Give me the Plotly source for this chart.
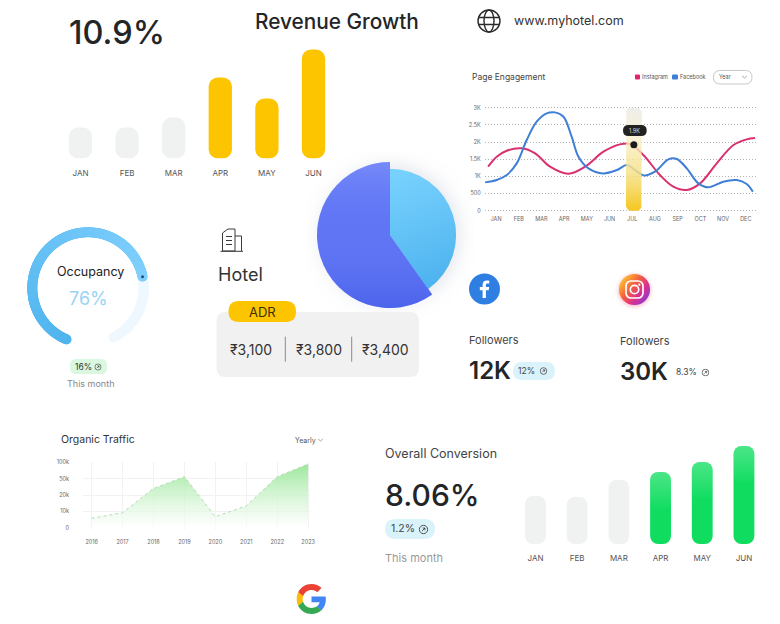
import base64
import math
import numpy as np
import plotly.graph_objects as go

W, H = 780, 624
FONT = "Inter"
INK = "#232527"
GREY_BAR = "#f0f1f1"

# Monthly bar panels
months6 = ["JAN", "FEB", "MAR", "APR", "MAY", "JUN"]
revenue = [31, 31, 41, 81, 60, 109]
conversion = [48, 47, 64, 72, 82, 98]

# Page engagement: samples along the year, month 1 = JAN
months12 = ["JAN", "FEB", "MAR", "APR", "MAY", "JUN", "JUL", "AUG", "SEP", "OCT", "NOV", "DEC"]
engagement_ticks = [0, 500, 1000, 1500, 2000, 2500, 3000]
engagement_labels = ["0", "500", "1K", "1.5K", "2K", "2.5K", "3K"]
insta_t = [0.65, 1.03, 1.47, 2.13, 2.72, 3.38, 4.19, 4.92, 5.73, 6.46, 6.90, 7.49, 8.22, 8.81, 9.40, 9.99, 10.72, 11.46, 12.04, 12.41]
insta_v = [1282, 1573, 1748, 1816, 1670, 1282, 1078, 1282, 1718, 1932, 1942, 1621, 1039, 699, 602, 796, 1379, 1913, 2078, 2117]
fb_t = [0.52, 1.03, 1.47, 1.91, 2.35, 2.79, 3.23, 3.60, 3.97, 4.33, 4.63, 5.07, 5.73, 6.32, 6.76, 7.12, 7.49, 8.00, 8.59, 8.96, 9.40, 9.91, 10.35, 11.01, 11.60, 12.04, 12.31]
fb_v = [825, 893, 1039, 1379, 2058, 2592, 2835, 2864, 2738, 2155, 1573, 1233, 1087, 1184, 1330, 1184, 1029, 1136, 1495, 1505, 1233, 796, 680, 845, 893, 777, 553]
hover_month = 7.07
hover_value = 1921

# Organic traffic, in thousands, on a stepped axis
years = [2016, 2017, 2018, 2019, 2020, 2021, 2022, 2023]
traffic = [5.7, 9.2, 32, 56, 6.7, 13.3, 56, 95]
traffic_ticks = [0, 10, 20, 50, 100]
traffic_labels = ["0", "10k", "20k", "50k", "100k"]

# Share pie and occupancy gauge
pie_shares = [40.2, 59.8]
occupancy = 76
adr_values = ["₹3,100", "₹3,800", "₹3,400"]


def xdom(a, b):
    return [a / W, b / W]


def ydom(top, bottom):
    return [1 - bottom / H, 1 - top / H]


def rounded_path(x0, y0, x1, y1, r):
    """Rounded rectangle in page pixels, as an SVG path on paper coordinates."""
    X = lambda v: f"{v / W:.5f}"
    Y = lambda v: f"{1 - v / H:.5f}"
    return (
        f"M{X(x0 + r)},{Y(y0)} L{X(x1 - r)},{Y(y0)} Q{X(x1)},{Y(y0)} {X(x1)},{Y(y0 + r)} "
        f"L{X(x1)},{Y(y1 - r)} Q{X(x1)},{Y(y1)} {X(x1 - r)},{Y(y1)} "
        f"L{X(x0 + r)},{Y(y1)} Q{X(x0)},{Y(y1)} {X(x0)},{Y(y1 - r)} "
        f"L{X(x0)},{Y(y0 + r)} Q{X(x0)},{Y(y0)} {X(x0 + r)},{Y(y0)} Z"
    )


def round_poly(x0, x1, y0, y1, rx, ry, n=8):
    """Closed rounded outline in the units of the axes it is plotted on."""
    a = np.linspace(0, math.pi / 2, n)
    xs, ys = [], []
    for cx, cy, sx, sy, flip in [
        (x1 - rx, y1 - ry, 1, 1, False),
        (x1 - rx, y0 + ry, 1, -1, True),
        (x0 + rx, y0 + ry, -1, -1, False),
        (x0 + rx, y1 - ry, -1, 1, True),
    ]:
        t = a[::-1] if flip else a
        xs += list(cx + sx * rx * np.sin(t))
        ys += list(cy + sy * ry * np.cos(t))
    return xs + xs[:1], ys + ys[:1]


fig = go.Figure()
annotations, shapes, images = [], [], []


def text(x, y, s, size, color=INK, anchor="left", weight=400):
    annotations.append(dict(
        x=x / W, y=1 - y / H, xref="paper", yref="paper", text=s, showarrow=False,
        xanchor=anchor, yanchor="middle", align=anchor, borderpad=0, borderwidth=0,
        font=dict(family=FONT, size=size, color=color, weight=weight),
    ))


def pill(x0, y0, x1, y1, r, fill, line=None, layer="below"):
    shapes.append(dict(
        type="path", path=rounded_path(x0, y0, x1, y1, r), xref="paper", yref="paper",
        fillcolor=fill, line=dict(width=1 if line else 0, color=line or fill), layer=layer,
    ))


def rule(x0, y0, x1, y1, color, width=1):
    shapes.append(dict(
        type="line", x0=x0 / W, x1=x1 / W, y0=1 - y0 / H, y1=1 - y1 / H,
        xref="paper", yref="paper", line=dict(color=color, width=width), layer="below",
    ))


def svg_image(svg, x0, y0, x1, y1, layer="above"):
    uri = "data:image/svg+xml;base64," + base64.b64encode(svg.encode()).decode()
    images.append(dict(
        source=uri, xref="paper", yref="paper", x=x0 / W, y=1 - y0 / H,
        sizex=(x1 - x0) / W, sizey=(y1 - y0) / H, xanchor="left", yanchor="top",
        sizing="stretch", layer=layer,
    ))


def svg(w, h, body):
    return f'<svg xmlns="http://www.w3.org/2000/svg" width="{w}" height="{h}" viewBox="0 0 {w} {h}">{body}</svg>'


def trend_icon(cx, cy, r=4.0, color="#333"):
    body = (
        f'<circle cx="12" cy="12" r="10" fill="none" stroke="{color}" stroke-width="2"/>'
        f'<path d="M8.5 15.5 L15.5 8.5 M10 8.5 H15.5 V14" fill="none" stroke="{color}" stroke-width="2"/>'
    )
    svg_image(svg(24, 24, body), cx - r, cy - r, cx + r, cy + r)


def bar_axes(n, x0, x1, y0, y1, ymax, standoff):
    fig.layout[f"xaxis{n}"] = dict(
        domain=xdom(x0, x1), anchor=f"y{n}", range=[-0.5, 5.5], tickmode="array", automargin=False,
        tickvals=list(range(6)), ticktext=months6, showgrid=False, zeroline=False, showline=False,
        ticks="", ticklabelstandoff=standoff, tickfont=dict(family=FONT, size=8, color="#555"),
    )
    fig.layout[f"yaxis{n}"] = dict(
        domain=ydom(y0, y1), anchor=f"x{n}", range=[0, ymax], visible=False, automargin=False,
    )


def pill_bars(values, colors, radius, axis_n):
    """A tiny non-zero base makes the renderer round all four corners of each bar."""
    fig.add_trace(go.Bar(
        x=list(range(len(values))), y=values, base=[0.01] * len(values), width=0.5,
        xaxis=f"x{axis_n}", yaxis=f"y{axis_n}", hoverinfo="skip",
        marker=dict(color=colors, cornerradius=radius, line_width=0),
    ))


# Revenue bars
bar_axes(2, 57.2, 336.8, 40, 158.5, 118.5, 8)
pill_bars(revenue, [GREY_BAR] * 3 + ["#fdc400"] * 3, 9, 2)

# Conversion bars with a soft highlight over the top of the coloured ones
bar_axes(3, 514.6, 764.8, 440, 544, 104, 8)
pill_bars(conversion, [GREY_BAR] * 3 + ["#10dd60"] * 3, 8, 3)
for i in range(3, 6):
    top = conversion[i]
    gx, gy = round_poly(i - 0.25, i + 0.25, top - 38, top, 0.19, 8)
    fig.add_trace(go.Scatter(
        x=gx, y=gy, xaxis="x3", yaxis="y3", mode="lines", line=dict(width=0), hoverinfo="skip",
        fill="toself",
        fillgradient=dict(type="vertical", colorscale=[[0, "rgba(255,255,255,0)"], [1, "rgba(255,255,255,0.25)"]]),
    ))

# Page engagement lines
fig.layout["xaxis4"] = dict(
    domain=xdom(484.7, 756), anchor="y4", range=[0.5, 12.45], tickmode="array", automargin=False,
    tickvals=list(range(1, 13)), ticktext=months12, showgrid=False, zeroline=False, showline=False,
    ticks="", ticklabelstandoff=3, tickfont=dict(family=FONT, size=5.5, color="#666"),
)
fig.layout["yaxis4"] = dict(
    domain=ydom(106.67, 211.73), anchor="x4", range=[-30, 3030], tickmode="array", automargin=False,
    tickvals=engagement_ticks, ticktext=engagement_labels, showline=False, zeroline=False,
    gridcolor="#b4b4b4", griddash="1px,2px", gridwidth=0.8, ticks="", ticklabelstandoff=3,
    tickfont=dict(family=FONT, size=5.5, color="#666"),
)
fig.add_trace(go.Scatter(
    x=insta_t, y=insta_v, xaxis="x4", yaxis="y4", mode="lines", hoverinfo="skip", name="Instagram",
    line=dict(color="#d9306f", width=2, shape="spline", smoothing=1.0),
))
fig.add_trace(go.Scatter(
    x=fb_t, y=fb_v, xaxis="x4", yaxis="y4", mode="lines", hoverinfo="skip", name="Facebook",
    line=dict(color="#3f7fd6", width=2, shape="spline", smoothing=1.0),
))
band_x, band_y = round_poly(hover_month - 0.35, hover_month + 0.35, 0, 3000, 0.2, 170)
fig.add_trace(go.Scatter(
    x=band_x, y=band_y, xaxis="x4", yaxis="y4", mode="lines", line=dict(width=0), hoverinfo="skip",
    fill="toself",
    fillgradient=dict(type="vertical", colorscale=[
        [0, "#f5c71f"], [0.35, "rgba(246,224,130,0.85)"], [0.72, "rgba(248,240,205,0.78)"], [1, "rgba(236,236,234,0.95)"],
    ]),
))
fig.add_trace(go.Scatter(
    x=[hover_month], y=[hover_value], xaxis="x4", yaxis="y4", mode="markers", hoverinfo="skip",
    marker=dict(color="#1c1c1c", size=7),
))

# Organic traffic area on a stepped scale
traffic_pos = np.interp(traffic, traffic_ticks, np.arange(len(traffic_ticks)))
fig.layout["xaxis5"] = dict(
    domain=xdom(83, 310), anchor="y5", range=[2015.72, 2023.06], tickmode="array", automargin=False,
    tickvals=years, ticktext=[str(y) for y in years], gridcolor="#f2f2f2", gridwidth=1,
    zeroline=False, showline=False, ticks="", ticklabelstandoff=9,
    tickfont=dict(family=FONT, size=5.5, color="#666"),
)
fig.layout["yaxis5"] = dict(
    domain=ydom(461.5, 528.5), anchor="x5", range=[-0.05, 4.05], tickmode="array", automargin=False,
    tickvals=list(range(5)), ticktext=traffic_labels, gridcolor="#f2f2f2", gridwidth=1,
    zeroline=False, showline=False, ticks="", ticklabelstandoff=13,
    tickfont=dict(family=FONT, size=5.5, color="#666"),
)
fig.add_trace(go.Scatter(
    x=years, y=traffic_pos, xaxis="x5", yaxis="y5", mode="lines", hoverinfo="skip",
    line=dict(color="#b5d8b5", width=1, dash="dot"), fill="tozeroy",
    fillgradient=dict(type="vertical", colorscale=[[0, "rgba(255,255,255,0.6)"], [1, "rgba(150,230,150,0.95)"]]),
))

# Pie: each slice sits on its own domain so the two radii differ
cx, cy, r_big, r_small = 390, 235, 73, 66
for radius, colors in [
    (r_small, ["#64c4f8", "rgba(0,0,0,0)"]),
    (r_big, ["rgba(0,0,0,0)", "#5f75f4"]),
]:
    fig.add_trace(go.Pie(
        values=pie_shares, sort=False, direction="clockwise", rotation=0, textinfo="none",
        hoverinfo="skip", showlegend=False, automargin=False,
        marker=dict(colors=colors, line=dict(width=0)),
        domain=dict(x=xdom(cx - radius, cx + radius), y=ydom(cy - radius, cy + radius)),
    ))


def wedge(r, a0, a1, box):
    x0 = box + r * math.sin(math.radians(a0))
    y0 = box - r * math.cos(math.radians(a0))
    x1 = box + r * math.sin(math.radians(a1))
    y1 = box - r * math.cos(math.radians(a1))
    large = 1 if a1 - a0 > 180 else 0
    return f"M{box} {box} L{x0:.2f} {y0:.2f} A{r} {r} 0 {large} 1 {x1:.2f} {y1:.2f} Z"


split = pie_shares[0] / sum(pie_shares) * 360
box = r_big + 1
size = 2 * box
pie_shade = (
    '<defs>'
    '<linearGradient id="d" x1="0" y1="0" x2="0" y2="1">'
    '<stop offset="0" stop-color="#8a9bff" stop-opacity="0.55"/><stop offset="0.5" stop-color="#5f75f4" stop-opacity="0"/>'
    '<stop offset="1" stop-color="#3c55e6" stop-opacity="0.55"/></linearGradient>'
    '<linearGradient id="l" x1="0.3" y1="0" x2="0.5" y2="1">'
    '<stop offset="0" stop-color="#7fd6ff" stop-opacity="0.7"/><stop offset="1" stop-color="#47aeec" stop-opacity="0.8"/></linearGradient>'
    '</defs>'
    f'<path d="{wedge(r_small, 0, split, box)}" fill="url(#l)"/>'
    f'<path d="{wedge(r_big, split, 360, box)}" fill="url(#d)"/>'
)
svg_image(svg(size, size, pie_shade), cx - box, cy - box, cx + box, cy + box)
svg_image(
    svg(220, 220, '<defs><filter id="b"><feGaussianBlur stdDeviation="9"/></filter></defs>'
        '<circle cx="110" cy="110" r="70" fill="#8f9bb5" fill-opacity="0.25" filter="url(#b)"/>'),
    cx - 110, cy - 110, cx + 110, cy + 110, layer="below",
)

# Occupancy gauge: a clockwise sweep of round-capped dots, lower left round to lower right
gauge_start, gauge_sweep, gauge_r, gauge_outer = 202.7, 310, 55.7, 60.7
done = gauge_start + gauge_sweep * np.linspace(0, occupancy / 100, 240)
rest = gauge_start + gauge_sweep * np.linspace(occupancy / 100, 1, 90)
fig.layout["polar"] = dict(
    domain=dict(x=xdom(88 - gauge_outer, 88 + gauge_outer), y=ydom(288 - gauge_outer, 288 + gauge_outer)),
    bgcolor="rgba(0,0,0,0)",
    radialaxis=dict(visible=False, range=[0, gauge_outer]),
    angularaxis=dict(visible=False, direction="clockwise", rotation=90),
)
fig.add_trace(go.Scatterpolar(
    r=[gauge_r] * len(rest), theta=rest, mode="markers", hoverinfo="skip",
    marker=dict(size=10, color="#eef8fe", line_width=0),
))
fig.add_trace(go.Scatterpolar(
    r=[gauge_r] * len(done), theta=done, mode="markers", hoverinfo="skip",
    marker=dict(size=10, color=np.linspace(0, 1, len(done)), line_width=0,
                colorscale=[[0, "#4fb4ee"], [1, "#80cffd"]], showscale=False),
))
fig.add_trace(go.Scatterpolar(
    r=[gauge_r], theta=[done[-1]], mode="markers", hoverinfo="skip",
    marker=dict(size=3, color="#1d4f86", line_width=0),
))

# Headline numbers and titles
text(68.5, 32, "10.9%", 32.5, INK, weight=500)
text(337, 22, "Revenue Growth", 20.8, INK, "center", 500)
text(514, 21, "www.myhotel.com", 12.5, "#333")
svg_image(svg(24, 24,
    '<g fill="none" stroke="#2a2a2a" stroke-width="1.4"><circle cx="12" cy="12" r="11"/>'
    '<ellipse cx="12" cy="12" rx="5" ry="11"/><path d="M1 8.5H23M1 15.5H23"/></g>'), 477, 9, 501, 33)

# Page engagement header
text(472, 77, "Page Engagement", 8.5, "#444")
pill(635, 74.5, 640, 79.5, 1, "#e0246e")
text(642, 77, "Instagram", 5.5, "#555")
pill(672, 74.5, 678, 79.5, 1, "#3f7fd6")
text(680, 77, "Facebook", 5.5, "#555")
pill(713.5, 70.5, 752, 84, 6.7, "#ffffff", "#c8c8c8")
text(719, 76.5, "Year", 5.5, "#555")
svg_image(svg(12, 8, '<path d="M2 2L6 6L10 2" fill="none" stroke="#888" stroke-width="1.4"/>'), 741, 75, 748, 79)
pill(623, 125, 646.7, 136, 5.5, "#222222", layer="above")
text(634.5, 130.5, "1.9K", 5.5, "#dddddd", "center")

# Occupancy labels
text(90, 271.5, "Occupancy", 12.5, "#222", "center")
text(88, 298, f"{occupancy}%", 18, "#9ad3f5", "center")
pill(70, 359, 107, 374, 6, "#d9f8df")
text(75, 367, "16%", 8.5, "#333")
trend_icon(98, 367, 3.7)
text(90.5, 383.5, "This month", 9, "#888", "center")

# Hotel card
svg_image(svg(24, 24,
    '<g fill="none" stroke="#3a3a3a" stroke-width="1"><path d="M2.5 23V5L8 1H15V23Z"/><path d="M15 8H21.5V23"/>'
    '<path d="M0.5 23.3H23"/><path d="M6 8.5H12M6 12.5H12M6 16.5H12"/></g>'), 220, 228, 244, 252)
text(218, 274, "Hotel", 18, "#333")
pill(216.5, 312, 419, 377, 9, "#f1f1f1")
pill(228.5, 301, 296, 322, 10.5, "#fdc400")
text(262, 312, "ADR", 13, "#3b3000", "center")
for x_mid, amount in zip([250.7, 318.5, 385.3], adr_values):
    text(x_mid, 349, amount, 14, "#333", "center")
rule(285.3, 336.7, 285.3, 361.7, "#8a8a8a")
rule(351.7, 336.7, 351.7, 361.7, "#8a8a8a")

# Social followers
svg_image(svg(32, 32,
    '<circle cx="16" cy="16" r="15.5" fill="#2f7fe2"/>'
    '<path d="M17.4 25V17.2H20.2L20.7 14H17.4V12.2C17.4 11.2 17.8 10.6 19 10.6H20.8V7.7C20.2 7.6 19.3 7.5 18.3 7.5C15.8 7.5 14.1 9 14.1 11.7V14H11.3V17.2H14.1V25Z" fill="#fff"/>'),
    468.5, 273, 500.5, 305)
svg_image(svg(44, 44,
    '<defs><linearGradient id="g" x1="0.1" y1="0.1" x2="0.95" y2="0.8">'
    '<stop offset="0" stop-color="#fdc830"/><stop offset="0.4" stop-color="#f5603c"/><stop offset="0.72" stop-color="#d92e92"/><stop offset="1" stop-color="#8a3bd0"/></linearGradient>'
    '<filter id="s" x="-30%" y="-30%" width="160%" height="160%"><feGaussianBlur stdDeviation="2"/></filter></defs>'
    '<circle cx="22" cy="23" r="16" fill="#f6708c" fill-opacity="0.5" filter="url(#s)"/>'
    '<circle cx="22" cy="22" r="15.5" fill="url(#g)"/>'
    '<g fill="none" stroke="#fff" stroke-width="1.7"><rect x="13.5" y="13.5" width="17" height="17" rx="5"/><circle cx="22" cy="22" r="4.2"/></g>'
    '<circle cx="26.8" cy="17.2" r="1.1" fill="#fff"/>'), 612.5, 267.5, 656.5, 311.5)
text(469, 339.5, "Followers", 11, "#444")
text(469, 370, "12K", 24, INK, weight=600)
pill(513, 362, 555, 380, 9, "#daf3fb")
text(518, 370.5, "12%", 8.5, "#444")
trend_icon(543.5, 371, 4)
text(620, 341, "Followers", 11, "#444")
text(620, 371, "30K", 24, INK, weight=600)
text(676, 371.5, "8.3%", 8.5, "#444")
trend_icon(705.5, 372.5, 4)

# Organic traffic header
text(61, 439.5, "Organic Traffic", 10.5, "#333")
text(295, 440.5, "Yearly", 7, "#555")
svg_image(svg(12, 8, '<path d="M2 2L6 6L10 2" fill="none" stroke="#888" stroke-width="1.4"/>'), 317, 438, 324, 442)

# Overall conversion text block
text(385, 453, "Overall Conversion", 12.5, "#444")
text(385, 495, "8.06%", 30, INK, weight=500)
pill(385, 519, 435, 539, 10, "#daf3fb")
text(391, 528.5, "1.2%", 10.5, "#444")
trend_icon(423.5, 529.5, 5)
text(385, 558, "This month", 11, "#999")

# Google mark
svg_image(svg(48, 48,
    '<path fill="#EA4335" d="M24 9.5c3.54 0 6.71 1.22 9.21 3.6l6.85-6.85C35.9 2.38 30.47 0 24 0 14.62 0 6.51 5.38 2.56 13.22l7.98 6.19C12.43 13.72 17.74 9.5 24 9.5z"/>'
    '<path fill="#4285F4" d="M46.98 24.55c0-1.57-.15-3.09-.38-4.55H24v9.02h12.94c-.58 2.96-2.26 5.48-4.78 7.18l7.73 6c4.51-4.18 7.09-10.36 7.09-17.65z"/>'
    '<path fill="#FBBC05" d="M10.53 28.59c-.48-1.45-.76-2.99-.76-4.59s.27-3.14.76-4.59l-7.98-6.19C.92 16.46 0 20.12 0 24c0 3.88.92 7.54 2.56 10.78l7.97-6.19z"/>'
    '<path fill="#34A853" d="M24 48c6.48 0 11.93-2.13 15.89-5.81l-7.73-6c-2.15 1.45-4.92 2.3-8.16 2.3-6.26 0-11.57-4.22-13.47-9.91l-7.98 6.19C6.51 42.62 14.62 48 24 48z"/>'),
    296.5, 584, 326.5, 614)

fig.update_layout(
    width=W, height=H, autosize=False, margin=dict(l=0, r=0, t=0, b=0, pad=0),
    paper_bgcolor="#ffffff", plot_bgcolor="rgba(0,0,0,0)", showlegend=False, barmode="overlay",
    hovermode=False, annotations=annotations, shapes=shapes, images=images,
    font=dict(family=FONT),
)
fig.write_html("out.html", config=dict(displayModeBar=False))
